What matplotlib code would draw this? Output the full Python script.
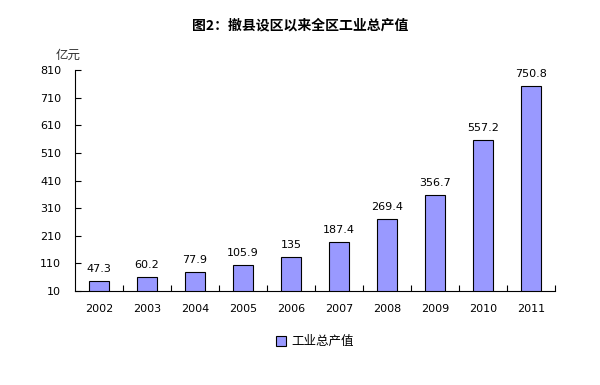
import matplotlib
matplotlib.use("Agg")
import matplotlib.pyplot as plt
from matplotlib.patches import Patch

plt.rcParams['font.family'] = ['DejaVu Sans', 'Noto Sans CJK SC']

years = ['2002', '2003', '2004', '2005', '2006', '2007', '2008', '2009', '2010', '2011']
values = [47.3, 60.2, 77.9, 105.9, 135, 187.4, 269.4, 356.7, 557.2, 750.8]
value_labels = ['47.3', '60.2', '77.9', '105.9', '135', '187.4', '269.4', '356.7', '557.2', '750.8']
yticks = [10, 110, 210, 310, 410, 510, 610, 710, 810]
title = '图2：撤县设区以来全区工业总产值'
unit = '亿元'
series_name = '工业总产值'

fig = plt.figure(figsize=(6.0, 3.85), dpi=100)
ax = fig.add_axes([0.125, 0.244, 0.80, 0.574])

x = list(range(len(years)))
ax.bar(x, values, width=0.4, color='#9999FF', edgecolor='black', linewidth=0.8)
for xi, v, lab in zip(x, values, value_labels):
    ax.annotate(lab, (xi, v), xytext=(0, 5), textcoords='offset points',
                ha='center', va='bottom', fontsize=8)

ax.set_xlim(-0.5, len(years) - 0.5)
ax.set_ylim(10, 810)
ax.set_yticks(yticks)
ax.set_yticklabels([str(t) for t in yticks], fontsize=8)
ax.set_xticks(x)
ax.set_xticklabels(years, fontsize=8)
ax.tick_params(axis='x', length=0, pad=9)
ax.set_xticks([i + 0.5 for i in x], minor=True)
ax.tick_params(axis='x', which='minor', direction='in', length=4, width=0.8)
ax.tick_params(axis='y', direction='in', length=4, width=0.8, pad=10)
ax.spines['top'].set_visible(False)
ax.spines['right'].set_visible(False)
for s in ('left', 'bottom'):
    ax.spines[s].set_linewidth(0.8)

fig.text(0.5, 0.935, title, ha='center', va='center', fontsize=10, fontweight='bold',
         family=['Noto Sans CJK SC'])
fig.text(0.113, 0.857, unit, ha='center', va='center', fontsize=9, color='#333333',
         family=['Noto Sans CJK SC'])

handle = Patch(facecolor='#9999FF', edgecolor='black', linewidth=0.8)
fig.legend([handle], [series_name], loc='center', bbox_to_anchor=(0.525, 0.112),
           frameon=False, prop={'family': 'Noto Sans CJK SC', 'size': 9},
           handlelength=0.8, handleheight=0.8, handletextpad=0.4)

fig.savefig('out.png', dpi=100)
